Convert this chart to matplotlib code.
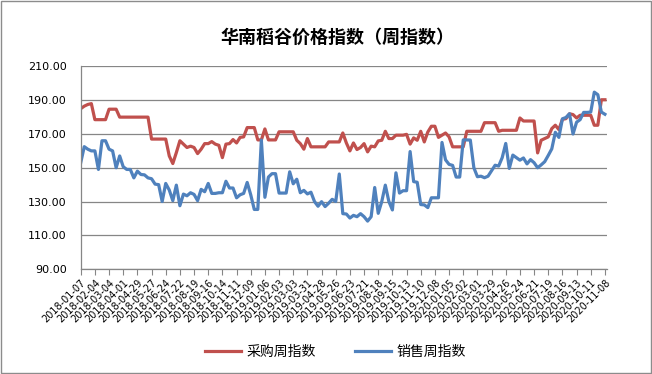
import matplotlib.pyplot as plt
from matplotlib.patches import Rectangle

plt.rcParams['font.family'] = ['Noto Sans CJK SC', 'DejaVu Sans']

# weekly index values, 2018-01-07 .. 2020-11-08 (149 weeks)
purchase = [
    185, 186.5, 187.5, 188, 178.5, 178.5, 178.5, 178.5, 184.7, 184.7,
    184.7, 180, 180, 180, 180, 180, 180, 180, 180, 180,
    167, 167, 167, 167, 167, 157, 152.5, 159, 166, 164,
    162, 162.8, 162, 158.4, 161, 164.3, 164.3, 165.5, 164, 163.3,
    156, 164, 164.3, 166.7, 164.7, 168, 168.3, 173.8, 173.8, 173.8,
    166.5, 166.5, 173, 166.5, 166.5, 166.5, 171.3, 171.3, 171.3, 171.3,
    171.3, 166.3, 164.3, 161, 167.3, 162.4, 162.4, 162.4, 162.4, 162.4,
    165.3, 165.3, 165.3, 165.3, 170.6, 164.7, 160, 164.7, 160.8, 162,
    164.3, 159.4, 162.8, 162.4, 165.9, 166.3, 171.6, 167.3, 167.3, 169.3,
    169.3, 169.3, 169.8, 164, 167.7, 166.3, 171.6, 165.3, 171.2, 174.6,
    174.6, 168, 169.3, 170.6, 168.3, 162.4, 162.4, 162.4, 162.4, 171.6,
    171.6, 171.6, 171.6, 171.6, 176.7, 176.7, 176.7, 176.7, 171.6, 172.2,
    172.2, 172.2, 172.2, 172.2, 179.5, 177.7, 177.7, 177.7, 177.7, 158.8,
    166.3, 167.3, 168.3, 173.2, 175.2, 172.6, 178.7, 179.1, 182, 181.5,
    179.5, 181.1, 181.1, 181.1, 181.1, 175.2, 175.2, 190.3, 190.3,
]
sales = [
    153, 162.5, 161, 160, 160, 149, 166, 166, 161, 160,
    150, 157, 150.6, 149, 149, 144, 148, 146, 145.8, 144,
    143.5, 140.3, 140, 130, 140.7, 136.8, 130.5, 139.7, 127.5, 134.4,
    133.4, 135.2, 134.2, 130.5, 137.2, 135.8, 140.7, 134.8, 134.8, 135.2,
    135.2, 142, 138, 138, 132.2, 134, 134.8, 141.3, 134, 125.3,
    125.3, 166.4, 132.5, 144.5, 146.5, 146.5, 135, 135, 135, 147.6,
    140.5, 143.2, 135.2, 136.6, 134.5, 135.5, 130, 127.2, 129.9, 127,
    129, 131.3, 130, 146.3, 122.8, 122.6, 120.2, 121.8, 121, 122.8,
    121, 118.4, 121, 138.3, 123, 130, 139.7, 130, 125, 147,
    135, 136.4, 136.4, 159.6, 141.8, 141.4, 128.2, 128, 126.4, 132.2,
    132.2, 132.2, 165, 154.7, 152, 151.4, 144.5, 144.5, 166.5, 166.5,
    166.4, 150, 144.7, 145, 144.1, 145, 148.2, 151.5, 151, 156,
    164.4, 149.6, 157.5, 156, 154.5, 155.8, 152.3, 154.8, 153, 150,
    151.7, 153.6, 157.3, 161.2, 171, 168, 179, 179.8, 182, 170,
    177, 178.5, 182.8, 182.8, 183, 194.8, 193.3, 183, 181.7,
]
tick_labels = [
    '2018-01-07', '2018-02-04', '2018-03-04', '2018-04-01', '2018-04-29',
    '2018-05-27', '2018-06-24', '2018-07-22', '2018-08-19', '2018-09-16',
    '2018-10-14', '2018-11-11', '2018-12-09', '2019-01-06', '2019-02-03',
    '2019-03-03', '2019-03-31', '2019-04-28', '2019-05-26', '2019-06-23',
    '2019-07-21', '2019-08-18', '2019-09-15', '2019-10-13', '2019-11-10',
    '2019-12-08', '2020-01-05', '2020-02-02', '2020-03-01', '2020-03-29',
    '2020-04-26', '2020-05-24', '2020-06-21', '2020-07-19', '2020-08-16',
    '2020-09-13', '2020-10-11', '2020-11-08',
]
y_ticks = [90, 110, 130, 150, 170, 190, 210]

weeks = list(range(len(purchase)))

fig = plt.figure(figsize=(6.52, 3.74), dpi=100)
ax = fig.add_axes([0.1238, 0.2807, 0.8067, 0.5415])

ax.plot(weeks, purchase, color='#C0504D', lw=2.3, label='采购周指数', solid_joinstyle='round')
ax.plot(weeks, sales, color='#4F81BD', lw=2.3, label='销售周指数', solid_joinstyle='round')

ax.set_xlim(0, len(weeks) - 0.5)
ax.set_ylim(90, 210)
ax.set_yticks(y_ticks)
ax.set_yticklabels([f'{v:.2f}' for v in y_ticks], family='DejaVu Sans', fontsize=8)
ax.set_xticks(weeks[::4])
ax.set_xticklabels(tick_labels, rotation=45, ha='right', rotation_mode='anchor',
                   family='DejaVu Sans', fontsize=7)
ax.tick_params(axis='y', length=0, pad=10)
ax.tick_params(axis='x', length=4, color='#868686', pad=2)
ax.grid(axis='y', color='#868686', lw=0.9)
ax.set_axisbelow(True)
for s in ['top', 'right']:
    ax.spines[s].set_visible(False)
for s in ['left', 'bottom']:
    ax.spines[s].set_color('#868686')
    ax.spines[s].set_linewidth(0.9)

fig.text(0.517, 0.9, '华南稻谷价格指数（周指数）', ha='center', va='center',
         fontsize=13, fontweight='bold')
fig.legend(loc='center', bbox_to_anchor=(0.515, 0.059), ncol=2, frameon=False,
           fontsize=10, handlelength=2.6, columnspacing=2.8, handletextpad=0.4)

fig.patches.append(Rectangle((0.002, 0.003), 0.996, 0.994, transform=fig.transFigure,
                             fill=False, edgecolor='#8c8c8c', lw=1))

fig.savefig('out.png', dpi=100)
